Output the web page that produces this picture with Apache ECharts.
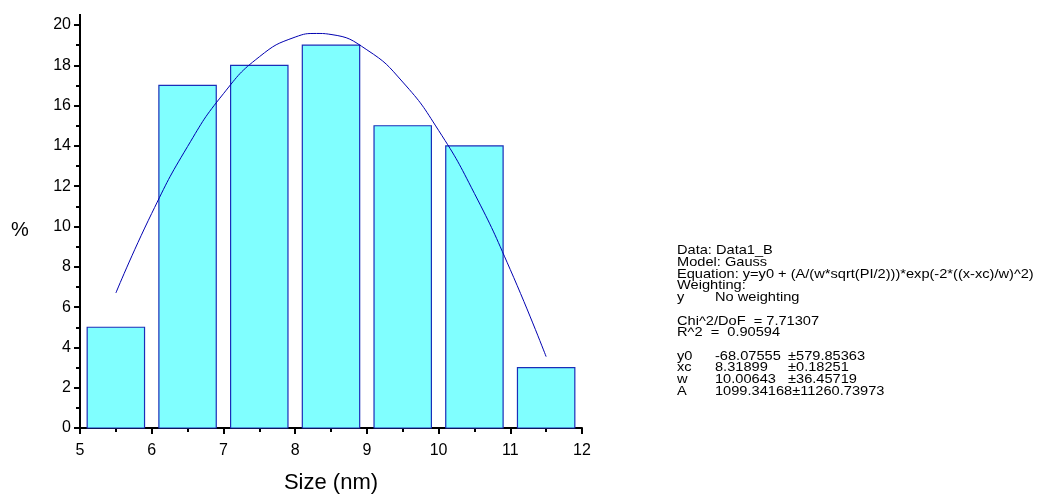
<!DOCTYPE html>
<html><head><meta charset="utf-8">
<script src="https://cdn.jsdelivr.net/npm/echarts@6/dist/echarts.min.js"></script>
<style>html,body{margin:0;padding:0;background:#fff}#c{width:1038px;height:499px}</style>
</head><body><div id="c"></div>
<script>
const binCenters = [5.5, 6.5, 7.5, 8.5, 9.5, 10.5, 11.5];
const binPercents = [5, 17, 18, 19, 15, 14, 3];
const binWidth = 0.8;
const fitX = [5.5, 6.0, 6.5, 7.0, 7.5, 8.0, 8.3, 8.5, 9.0, 9.5, 10.0, 10.5, 11.0, 11.5];
const fitY = [6.7, 10.65, 13.97, 16.59, 18.42, 19.40, 19.58, 19.53, 18.77, 17.17, 14.77, 11.64, 7.86, 3.54];
const infoLines = [
  ['Data: Data1_B'], ['Model: Gauss'],
  ['Equation: y=y0 + (A/(w*sqrt(PI/2)))*exp(-2*((x-xc)/w)^2)'],
  ['Weighting:'], ['y', 'No weighting'], [''],
  ['Chi^2/DoF  = 7.71307'], ['R^2  =  0.90594'], [''],
  ['y0', '-68.07555', '\u00b1579.85363'],
  ['xc', '8.31899', '\u00b10.18251'],
  ['w', '10.00643', '\u00b136.45719'],
  ['A', '1099.34168\u00b111260.73973']
];

const chart = echarts.init(document.getElementById('c'));
const font = 'Liberation Sans, Arial, sans-serif';
const graphics = [];
const tf = '12.6px ' + font;
const sx = 1.16;
infoLines.forEach((ln, i) => {
  const y = 244.5 + i * 11.67;
  graphics.push({type: 'text', x: 677, y: y, scaleX: sx, style: {text: ln[0], font: tf, fill: '#000'}});
  if (ln[1]) graphics.push({type: 'text', x: 715, y: y, scaleX: sx, style: {text: ln[1], font: tf, fill: '#000'}});
  if (ln[2]) graphics.push({type: 'text', x: 788, y: y, scaleX: sx, style: {text: ln[2], font: tf, fill: '#000'}});
});
graphics.push({type: 'text', x: 11, y: 220, style: {text: '%', font: '20px ' + font, fill: '#000'}});
graphics.push({type: 'line', shape: {x1: 80, y1: 14, x2: 80, y2: 26}, style: {stroke: '#000', lineWidth: 2}});

chart.setOption({
  animation: false,
  grid: {left: 80, top: 25, width: 502, height: 408, containLabel: false},
  xAxis: {
    type: 'value', min: 5, max: 12, interval: 1,
    name: 'Size (nm)', nameLocation: 'middle', nameGap: 44,
    nameTextStyle: {fontSize: 22, fontFamily: font, color: '#000'},
    axisLine: {show: true, lineStyle: {color: '#000', width: 2}},
    axisTick: {show: true, length: 6, lineStyle: {color: '#000', width: 2}},
    minorTick: {show: true, splitNumber: 2, length: 4, lineStyle: {color: '#000', width: 2}},
    axisLabel: {fontSize: 16, fontFamily: font, color: '#000', margin: 15},
    splitLine: {show: false}
  },
  yAxis: {
    type: 'value', min: 0, max: 20, interval: 2,
    axisLine: {show: true, lineStyle: {color: '#000', width: 2}},
    axisTick: {show: true, length: 6, lineStyle: {color: '#000', width: 2}},
    minorTick: {show: true, splitNumber: 2, length: 4, lineStyle: {color: '#000', width: 2}},
    axisLabel: {fontSize: 16, fontFamily: font, color: '#000', margin: 9},
    splitLine: {show: false}
  },
  graphic: graphics,
  series: [
    {
      type: 'custom',
      data: binCenters.map((c, i) => [c, binPercents[i]]),
      renderItem: function (params, api) {
        const x = api.value(0), y = api.value(1);
        const p0 = api.coord([x - binWidth / 2, y]);
        const p1 = api.coord([x + binWidth / 2, 0]);
        return {
          type: 'rect',
          shape: {x: p0[0], y: p0[1], width: p1[0] - p0[0], height: p1[1] - p0[1]},
          style: {fill: '#80ffff', stroke: '#1a2eb8', lineWidth: 1.2}
        };
      },
      z: 2
    },
    {
      type: 'line',
      data: fitX.map((x, i) => [x, fitY[i]]),
      smooth: true, showSymbol: false,
      lineStyle: {color: '#0000b0', width: 1},
      z: 3
    }
  ]
});
</script></body></html>
